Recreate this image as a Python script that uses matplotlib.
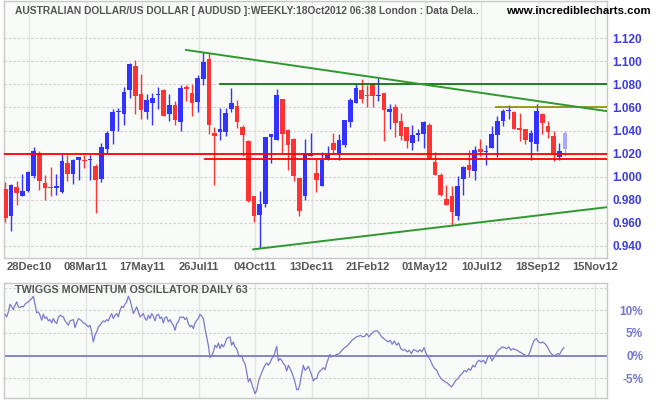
import numpy as np
import matplotlib
matplotlib.use("Agg")
import matplotlib.pyplot as plt
from matplotlib import font_manager

# ---------------- data ----------------
tick_labels = ["28Dec10", "08Mar11", "17May11", "26Jul11", "04Oct11", "13Dec11",
               "21Feb12", "01May12", "10Jul12", "18Sep12", "15Nov12"]
tick_weeks = [4.2, 14.2, 24.2, 34.2, 44.2, 54.2, 64.2, 74.2, 84.2, 94.2, 104.3]

opens = [0.9896, 0.9664, 0.9913, 0.9835, 0.9878, 1.0003, 1.0206, 0.9945, 0.9907, 0.9899,
         0.9870, 1.0122, 1.0020, 1.0142, 1.0139, 1.0142, 1.0096, 0.9980, 1.0241, 1.0394,
         1.0559, 1.0542, 1.0751, 1.0957, 1.0713, 1.0559, 1.0638, 1.0707, 1.0748, 1.0542,
         1.0617, 1.0472, 1.0780, 1.0722, 1.0646, 1.0843, 1.1017, 1.0380, 1.0388, 1.0386,
         1.0586, 1.0609, 1.0432, 1.0307, 0.9829, 0.9672, 0.9765, 1.0342, 1.0316, 1.0670,
         1.0406, 1.0330, 0.9988, 0.9829, 1.0177, 1.0032, 0.9916, 1.0148, 1.0296, 1.0206,
         1.0278, 1.0472, 1.0641, 1.0748, 1.0704, 1.0800, 1.0699, 1.0728, 1.0559, 1.0603,
         1.0481, 1.0429, 1.0293, 1.0359, 1.0374, 1.0452, 1.0128, 1.0012, 0.9809, 0.9829,
         0.9664, 0.9983, 1.0104, 1.0046, 1.0243, 1.0214, 1.0246, 1.0359, 1.0481, 1.0568,
         1.0559, 1.0420, 1.0417, 1.0299, 1.0284, 1.0539, 1.0443, 1.0357, 1.0168, 1.0241]
highs = [0.9954, 0.9939, 0.9965, 1.0026, 1.0052, 1.0255, 1.0226, 1.0017, 1.0081, 1.0020,
         1.0197, 1.0191, 1.0157, 1.0174, 1.0191, 1.0191, 1.0110, 1.0293, 1.0400, 1.0583,
         1.0597, 1.0774, 1.0983, 1.1009, 1.0890, 1.0713, 1.0728, 1.0774, 1.0762, 1.0713,
         1.0652, 1.0791, 1.0791, 1.0800, 1.0881, 1.1081, 1.1070, 1.0432, 1.0597, 1.0597,
         1.0765, 1.0661, 1.0446, 1.0316, 0.9829, 0.9878, 1.0342, 1.0371, 1.0757, 1.0670,
         1.0414, 1.0336, 0.9988, 1.0330, 1.0380, 1.0157, 1.0214, 1.0270, 1.0380, 1.0371,
         1.0487, 1.0684, 1.0800, 1.0843, 1.0791, 1.0809, 1.0858, 1.0728, 1.0626, 1.0626,
         1.0554, 1.0429, 1.0452, 1.0417, 1.0481, 1.0467, 1.0214, 1.0032, 0.9930, 0.9916,
         1.0003, 1.0090, 1.0229, 1.0264, 1.0330, 1.0278, 1.0443, 1.0525, 1.0588, 1.0617,
         1.0568, 1.0554, 1.0417, 1.0403, 1.0626, 1.0548, 1.0481, 1.0394, 1.0293, 1.0400]
lows = [0.9612, 0.9533, 0.9751, 0.9829, 0.9864, 0.9988, 0.9881, 0.9800, 0.9829, 0.9843,
        0.9858, 0.9959, 0.9939, 0.9968, 1.0072, 0.9968, 0.9690, 0.9951, 1.0200, 1.0287,
        1.0394, 1.0446, 1.0684, 1.0539, 1.0496, 1.0504, 1.0446, 1.0583, 1.0522, 1.0481,
        1.0452, 1.0394, 1.0652, 1.0522, 1.0557, 1.0791, 1.0371, 0.9925, 1.0316, 1.0357,
        1.0557, 1.0426, 1.0177, 0.9777, 0.9612, 0.9380, 0.9742, 1.0119, 1.0316, 1.0200,
        1.0055, 0.9959, 0.9664, 0.9800, 1.0177, 0.9864, 0.9916, 1.0142, 1.0200, 1.0142,
        1.0255, 1.0429, 1.0635, 1.0641, 1.0606, 1.0606, 1.0655, 1.0310, 1.0417, 1.0342,
        1.0322, 1.0249, 1.0229, 1.0307, 1.0249, 1.0157, 1.0017, 0.9829, 0.9757, 0.9577,
        0.9626, 0.9843, 0.9997, 0.9968, 1.0177, 1.0099, 1.0246, 1.0171, 1.0438, 1.0496,
        1.0409, 1.0307, 1.0284, 1.0148, 1.0226, 1.0371, 1.0336, 1.0133, 1.0148, 1.0177]
closes = [0.9646, 0.9925, 0.9855, 0.9878, 1.0043, 1.0226, 0.9959, 0.9899, 0.9899, 0.9922,
          1.0139, 1.0020, 1.0148, 1.0174, 1.0133, 1.0148, 0.9968, 1.0258, 1.0380, 1.0562,
          1.0571, 1.0730, 1.0974, 1.0699, 1.0577, 1.0661, 1.0684, 1.0716, 1.0530, 1.0623,
          1.0487, 1.0765, 1.0757, 1.0638, 1.0852, 1.0994, 1.0446, 1.0351, 1.0409, 1.0548,
          1.0635, 1.0472, 1.0359, 0.9786, 0.9664, 0.9765, 1.0342, 1.0371, 1.0704, 1.0374,
          1.0278, 1.0003, 0.9707, 1.0206, 1.0206, 0.9968, 1.0148, 1.0191, 1.0229, 1.0322,
          1.0487, 1.0661, 1.0765, 1.0670, 1.0699, 1.0699, 1.0710, 1.0574, 1.0583, 1.0461,
          1.0351, 1.0307, 1.0365, 1.0380, 1.0472, 1.0157, 1.0017, 0.9843, 0.9757, 0.9693,
          0.9916, 1.0081, 1.0061, 1.0235, 1.0214, 1.0226, 1.0371, 1.0481, 1.0568, 1.0577,
          1.0417, 1.0403, 1.0322, 1.0380, 1.0568, 1.0461, 1.0386, 1.0186, 1.0226, 1.0380]

# horizontal support / resistance levels and trend lines (week index, price)
red_levels = [(-0.3, 1.020), (35.3, 1.015)]
green_level = (38.0, 1.080)
olive_level = (86.8, 1.060)
upper_trend = [(31.96, 1.1098), (106.4, 1.0568)]
lower_trend = [(43.86, 0.9371), (106.4, 0.9736)]

# Twiggs momentum oscillator (daily, %), two sampled stretches
osc_a_span = (-0.05, 57.43)
osc_a = [9.04, 8.53, 9.63, 11.32, 10.74, 10.15, 11.1, 11.84, 10.74, 10.59, 10.88, 10.74,
         11.32, 11.62, 11.84, 12.21, 12.57, 13.09, 11.32, 9.41, 9.63, 8.9, 7.79, 9.12,
         8.16, 8.53, 7.65, 7.94, 7.21, 8.16, 7.43, 7.06, 8.38, 8.9, 8.68, 8.53, 7.65,
         7.21, 6.69, 7.65, 7.79, 7.94, 6.18, 7.21, 8.16, 7.94, 7.65, 7.21, 7.06, 6.69,
         6.32, 6.69, 5.22, 3.01, 4.49, 5.22, 6.32, 6.69, 7.21, 7.65, 7.43, 7.94, 7.65,
         8.53, 9.26, 8.16, 8.9, 9.26, 8.53, 10.0, 10.88, 10.59, 11.32, 11.84, 13.09,
         12.21, 10.88, 9.26, 10.0, 10.74, 9.63, 8.53, 8.9, 9.26, 8.16, 7.79, 8.9, 8.16,
         9.26, 8.68, 7.65, 8.9, 9.12, 8.16, 8.53, 7.21, 8.38, 8.53, 7.43, 7.94, 7.21,
         6.69, 5.59, 7.06, 7.43, 8.53, 8.38, 8.53, 7.94, 8.38, 7.06, 6.32, 6.69, 5.96,
         7.21, 7.79, 8.16, 9.12, 8.68, 8.16, 5.96, 4.12, 2.28, -0.44, 0.07, 0.81, 2.28,
         1.76, 2.79, 1.54, 2.5, 1.91, 2.65, 3.75, 3.97, 4.12, 2.28, 3.01, 1.91, 1.54,
         0.29, -0.29, 0.07, -1.18, -1.76, -3.6, -5.81, -5.07, -6.18, -7.28, -8.38, -7.65,
         -5.81, -4.71, -3.82, -2.87, -2.13, -1.62, -2.13, -1.62, -0.66, -0.29, 0.81, 2.06,
         -1.18, -0.66, -1.03, -1.76, -2.13, -3.38, -2.13, -2.87, -3.6, -4.71, -5.81, -7.5,
         -7.5, -6.18, -3.97, -2.13, -3.24, -2.87, -2.35, -3.38, -4.34, -5.59, -5.07, -5.07,
         -3.82, -3.38, -3.09, -2.65, -3.09, -1.76, -0.66, 0.29]
osc_b_span = (57.57, 98.8)
osc_b = [-0.29, -0.15, 0.07, 0.29, 0.44, 1.03, 1.54, 1.91, 2.28, 2.79, 3.38, 3.75, 4.12,
         4.26, 4.49, 4.12, 4.26, 4.85, 4.12, 4.71, 5.22, 5.44, 5.44, 4.85, 4.12, 3.75,
         3.38, 3.01, 3.38, 2.5, 3.24, 2.28, 2.79, 1.54, 1.18, 1.32, 0.81, 1.18, 0.44,
         1.32, 1.18, 0.81, 1.32, 0.81, 1.76, 0.44, -0.29, -1.03, -2.13, -2.87, -3.24,
         -4.34, -5.07, -5.44, -5.81, -6.03, -6.54, -6.91, -6.18, -5.44, -5.07, -4.34,
         -3.97, -3.24, -3.6, -2.87, -3.24, -2.13, -2.5, -1.4, -1.03, -1.4, -1.03, -1.76,
         -0.44, 0.07, -1.18, -0.44, 0.44, 1.18, 1.54, 1.91, 1.76, 1.54, 1.91, 1.18, 1.54,
         1.32, 1.18, 0.81, 0.59, 0.29, 0.07, -0.15, 0.81, 2.28, 3.38, 3.75, 3.01, 2.79,
         3.01, 2.65, 2.06, 1.18, 0.44, 0.07, 0.07, 0.44, 0.29, 1.18, 1.76]

price_ticks = [0.94, 0.96, 0.98, 1.00, 1.02, 1.04, 1.06, 1.08, 1.10, 1.12]
osc_ticks = [10, 5, 0, -5]
osc_tick_labels = ["10%", "5%", "0%", "-5%"]

title_text = "AUSTRALIAN DOLLAR/US DOLLAR [ AUDUSD ]:WEEKLY:18Oct2012 06:38 London : Data Dela.."
site_text = "www.incrediblecharts.com"
osc_title = "TWIGGS MOMENTUM OSCILLATOR DAILY 63"

# ---------------- styling ----------------
W, H = 665, 405
UP, DOWN, LAST = "#3333ff", "#ff3333", "#a8a8ff"
BG = "#f9fbf9"
GRID_H = "#d4d4d4"
GRID_V = "#e4e4e4"

installed = {f.name for f in font_manager.fontManager.ttflist}
narrow = [f for f in ["Liberation Sans Narrow", "DejaVu Sans Condensed", "Liberation Sans"]
          if f in installed] + ["DejaVu Sans"]

fig = plt.figure(figsize=(W / 100, H / 100), dpi=100)
fig.patch.set_facecolor("white")


def rect(x0, y0, x1, y1):
    return [x0 / W, 1 - y1 / H, (x1 - x0) / W, (y1 - y0) / H]


ax = fig.add_axes(rect(4, 1, 607, 258))
ax2 = fig.add_axes(rect(4, 283, 607, 398), sharex=ax)

for a in (ax, ax2):
    a.set_facecolor(BG)
    for s in a.spines.values():
        s.set_color("#c8c8c8")
        s.set_linewidth(1.0)
    a.set_axisbelow(True)

xlim = (-0.23, 106.42)
ax.set_xlim(*xlim)
ax.set_ylim(0.9296, 1.1522)

# grid
for t in tick_weeks:
    ax.axvline(t, color=GRID_V, lw=1.0, zorder=0)
    ax2.axvline(t, color=GRID_V, lw=1.0, zorder=0)
for p in price_ticks:
    ax.axhline(p, color=GRID_H, lw=0.8, ls=(0, (2.5, 1.5)), zorder=0)

# candles
x = np.arange(len(opens))
o = np.array(opens)
c = np.array(closes)
hi = np.array(highs)
lo = np.array(lows)
cols = [UP if cc >= oo else DOWN for oo, cc in zip(o, c)]
cols[-1] = LAST
ax.vlines(x, lo, hi, colors=cols, lw=1.0, zorder=3)
bottom = np.minimum(o, c)
height = np.maximum(np.abs(c - o), 0.0009)
ax.bar(x, height, bottom=bottom, width=0.82, color=cols, edgecolor="none", zorder=4)

# levels / trend lines
ax.plot([red_levels[0][0], xlim[1]], [red_levels[0][1]] * 2, color="#ff0000", lw=1.3, zorder=5)
ax.plot([red_levels[1][0], xlim[1]], [red_levels[1][1]] * 2, color="#ff0000", lw=1.3, zorder=5)
ax.plot([green_level[0], xlim[1]], [green_level[1]] * 2, color="#006a00", lw=1.2, zorder=5)
ax.plot([olive_level[0], xlim[1]], [olive_level[1]] * 2, color="#8a8a00", lw=1.2, zorder=5)
ax.plot([p[0] for p in upper_trend], [p[1] for p in upper_trend], color="#2e9a2e", lw=1.4, zorder=5)
ax.plot([p[0] for p in lower_trend], [p[1] for p in lower_trend], color="#2e9a2e", lw=1.4, zorder=5)

# axes ticks
ax.set_xticks(tick_weeks)
ax.set_xticklabels(tick_labels, fontfamily=narrow, fontweight="bold", fontsize=8, color="#555555")
ax.tick_params(axis="x", length=0, pad=3)
ax.yaxis.tick_right()
ax.set_yticks(price_ticks)
ax.set_yticklabels([f"{p:.3f}" for p in price_ticks], fontfamily=narrow, fontweight="bold",
                   fontsize=8.5, color="#3c3cdc")
ax.tick_params(axis="y", length=0, pad=4)

# oscillator
xa = np.linspace(osc_a_span[0], osc_a_span[1], len(osc_a))
xb = np.linspace(osc_b_span[0], osc_b_span[1], len(osc_b))
ax2.set_ylim(-9.34, 16.0)
for t in [15, 10, 5, -5]:
    ax2.axhline(t, color=GRID_H, lw=0.8, ls=(0, (2.5, 1.5)), zorder=0)
ax2.axhline(0, color="#7070c0", lw=1.2, zorder=2)
ax2.plot(np.concatenate([xa, xb]), np.concatenate([osc_a, osc_b]), color="#7b7bcc", lw=0.9, zorder=3)
ax2.yaxis.tick_right()
ax2.set_yticks(osc_ticks)
ax2.set_yticklabels(osc_tick_labels, fontfamily=narrow, fontweight="bold", fontsize=8.5,
                    color="#7676d0", ha="right")
ax2.tick_params(axis="y", length=0, pad=26)
ax2.tick_params(axis="x", length=0, labelbottom=False)

# titles (font size fitted to the pixel width they take in the reference)
t1 = fig.text(15 / W, 1 - 10.5 / H, title_text, fontfamily=narrow, fontweight="bold",
              fontsize=8, color="#555555", va="center", ha="left")
t2 = fig.text(651 / W, 1 - 10.5 / H, site_text, fontfamily=narrow, fontweight="bold",
              fontsize=8.5, color="#000000", va="center", ha="right")
t3 = fig.text(15 / W, 1 - 290 / H, osc_title, fontfamily=narrow, fontweight="bold",
              fontsize=8, color="#555555", va="center", ha="left")

renderer = fig.canvas.get_renderer()
for t, target in ((t1, 466), (t2, 144), (t3, 232)):
    w = t.get_window_extent(renderer=renderer).width
    t.set_fontsize(t.get_fontsize() * target / w)

fig.savefig("out.png", dpi=100, facecolor=fig.get_facecolor())
